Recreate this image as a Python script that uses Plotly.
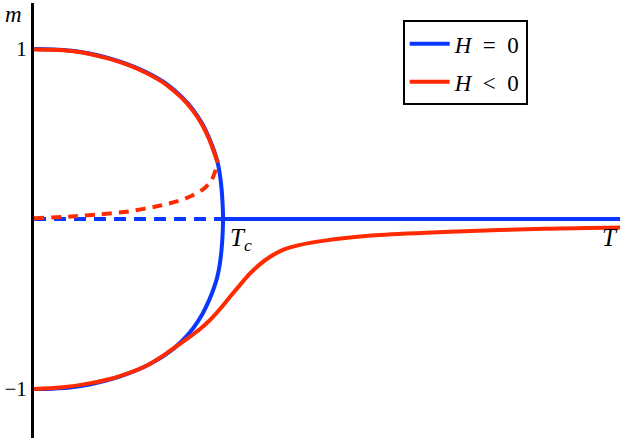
import plotly.graph_objects as go

# ---- data ----
# H = 0 : spontaneous magnetisation branch (upper), T < Tc
T_blue = [0.0, 0.1, 0.2, 0.3, 0.4, 0.5, 0.6, 0.7, 0.78, 0.84, 0.89, 0.925, 0.95,
          0.968, 0.982, 0.992, 0.997, 1.0]
m_blue = [1.0, 0.998, 0.99, 0.972, 0.945, 0.908, 0.86, 0.795, 0.72, 0.645, 0.56,
          0.48, 0.41, 0.347, 0.27, 0.18, 0.1, 0.0]
# H = 0 : m = 0 solution
T_zero_dashed = [0.0, 1.0]
T_zero_solid = [1.0, 3.1]
m_zero = [0.0, 0.0]

# H < 0 : metastable upper branch (solid) and unstable branch (dashed)
T_red_up = [0.0, 0.1, 0.2, 0.3, 0.4, 0.5, 0.6, 0.7, 0.78, 0.84, 0.89, 0.925, 0.95,
            0.972]
m_red_up = [0.998, 0.996, 0.988, 0.97, 0.942, 0.905, 0.856, 0.79, 0.714, 0.638,
            0.553, 0.472, 0.4, 0.33]
T_red_dash = [0.0, 0.2, 0.35, 0.5, 0.65, 0.76, 0.84, 0.9, 0.94, 0.972]
m_red_dash = [0.005, 0.015, 0.028, 0.045, 0.075, 0.105, 0.14, 0.18, 0.23, 0.33]
# H < 0 : stable lower branch
T_red_low = [0.0, 0.15, 0.3, 0.45, 0.6, 0.7, 0.78, 0.825, 0.88, 0.931, 0.985,
             1.037, 1.09, 1.143, 1.196, 1.249, 1.3, 1.354, 1.46, 1.66, 1.83, 2.2,
             2.7, 3.1]
m_red_low = [-1.0, -0.99, -0.965, -0.925, -0.86, -0.79, -0.728, -0.692, -0.645,
             -0.594, -0.528, -0.457, -0.387, -0.32, -0.265, -0.222, -0.19, -0.167,
             -0.14, -0.11, -0.094, -0.075, -0.057, -0.049]

ytick_vals = [1, -1]
ytick_text = ["1", "\u22121"]

BLUE = "#0a37ff"
RED = "#ff2a00"
SERIF = "Liberation Serif, DejaVu Serif, serif"
SP = "\u2002"

# full H=0 branch: upper, through Tc, lower (mirror)
T_blue_full = T_blue + T_blue[::-1][1:]
m_blue_full = m_blue + [-v for v in m_blue[::-1][1:]]

fig = go.Figure()
fig.add_trace(go.Scatter(x=T_zero_dashed, y=m_zero, mode="lines",
                         line=dict(color=BLUE, width=4, dash="12px,8px"),
                         showlegend=False, hoverinfo="skip"))
fig.add_trace(go.Scatter(x=T_blue_full, y=m_blue_full, mode="lines",
                         line=dict(color=BLUE, width=4, shape="spline", smoothing=0.8),
                         name="<i>H</i>" + SP + "=" + SP + "0",
                         legendgroup="a", showlegend=True, hoverinfo="skip"))
fig.add_trace(go.Scatter(x=T_zero_solid, y=m_zero, mode="lines",
                         line=dict(color=BLUE, width=4),
                         showlegend=False, hoverinfo="skip"))
fig.add_trace(go.Scatter(x=T_red_dash, y=m_red_dash, mode="lines",
                         line=dict(color=RED, width=4, dash="10px,7px",
                                   shape="spline", smoothing=0.8),
                         showlegend=False, hoverinfo="skip"))
fig.add_trace(go.Scatter(x=T_red_up, y=m_red_up, mode="lines",
                         line=dict(color=RED, width=4, shape="spline", smoothing=0.8),
                         showlegend=False, hoverinfo="skip"))
fig.add_trace(go.Scatter(x=T_red_low, y=m_red_low, mode="lines",
                         line=dict(color=RED, width=4, shape="spline", smoothing=1.0),
                         name="<i>H</i>" + SP + "&lt;" + SP + "0",
                         legendgroup="b", showlegend=True, hoverinfo="skip"))

fig.update_layout(
    width=623, height=441,
    margin=dict(l=34, r=1, t=3, b=3),
    plot_bgcolor="white", paper_bgcolor="white",
    xaxis=dict(range=[0, 3.11], showgrid=False, zeroline=False,
               showticklabels=False, showline=False, fixedrange=True),
    yaxis=dict(range=[-1.288, 1.271], showgrid=False, zeroline=False,
               showline=True, linecolor="black", linewidth=3,
               tickvals=ytick_vals, ticktext=ytick_text, ticks="",
               tickfont=dict(family=SERIF, size=21, color="black"),
               fixedrange=True),
    legend=dict(x=0.627, y=0.96, xanchor="left", yanchor="top",
                bordercolor="black", borderwidth=2, bgcolor="white",
                font=dict(family=SERIF, size=23, color="black"),
                tracegroupgap=5, itemwidth=40),
    showlegend=True,
    annotations=[
        dict(text="<i>m</i>", x=-0.035, y=1.0, xref="paper", yref="paper",
             xanchor="center", yanchor="top", yshift=3,
             showarrow=False, font=dict(family=SERIF, size=23, color="black")),
        dict(text="<i>T</i><sub><i>c</i></sub>", x=1.0, y=0, xref="x", yref="y",
             xanchor="left", yanchor="top", xshift=5, yshift=-3,
             showarrow=False, font=dict(family=SERIF, size=25, color="black")),
        dict(text="<i>T</i>", x=3.1, y=0, xref="x", yref="y",
             xanchor="right", yanchor="top", yshift=-3,
             showarrow=False, font=dict(family=SERIF, size=25, color="black")),
    ],
)

fig.write_html("out.html", config={"displayModeBar": False},
               post_script="document.body.style.margin='0';document.body.style.overflow='hidden';")
